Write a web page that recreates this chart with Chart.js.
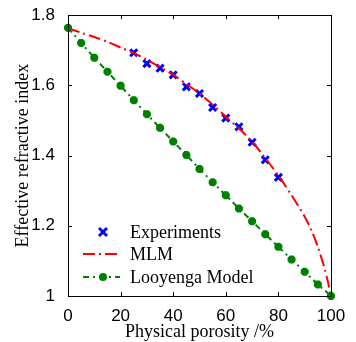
<!DOCTYPE html>
<html>
<head>
<meta charset="utf-8">
<script src="https://cdn.jsdelivr.net/npm/chart.js@4/dist/chart.umd.min.js"></script>
<style>
  html, body { margin: 0; padding: 0; background: #fff; }
  #wrap { width: 356px; height: 342px; }
</style>
</head>
<body>
<div id="wrap"><canvas id="porosityChart" width="356" height="342"></canvas></div>
<script>
// porosity (%) and refractive index values
var expPorosity = [25, 30, 35, 40, 45, 50, 55, 60, 65, 70, 75, 80];
var expIndex = [1.693, 1.662, 1.649, 1.630, 1.596, 1.577, 1.537, 1.507, 1.482, 1.438, 1.388, 1.338];

var mlmPorosity = [0, 5, 10, 15, 20, 25, 30, 35, 40, 45, 50, 55, 60, 65, 70, 75, 80, 85, 90, 92.5, 95, 97.5, 99, 100];
var mlmIndex = [1.763, 1.750, 1.738, 1.724, 1.708, 1.692, 1.673, 1.652, 1.630, 1.604, 1.577, 1.545, 1.511, 1.477, 1.440, 1.393, 1.343, 1.287, 1.226, 1.188, 1.140, 1.080, 1.035, 1.0];

var looPorosity = [0, 5, 10, 15, 20, 25, 30, 35, 40, 45, 50, 55, 60, 65, 70, 75, 80, 85, 90, 95, 100];
var looIndex = [1.764, 1.721, 1.679, 1.639, 1.599, 1.558, 1.518, 1.479, 1.440, 1.402, 1.362, 1.324, 1.287, 1.249, 1.213, 1.176, 1.140, 1.104, 1.069, 1.033, 1.0];

var xTicks = [0, 20, 40, 60, 80, 100];
var yTicks = [1, 1.2, 1.4, 1.6, 1.8];

var seriesNames = ['Experiments', 'MLM', 'Looyenga Model'];

function toPoints(xs, ys) {
    return xs.map(function (x, i) { return { x: x, y: ys[i] }; });
}

var blue = '#0000ff';
var red = '#ff0000';
var green = '#008000';

// box around the plot with inward ticks (matlab style)
var frameTicks = {
    id: 'frameTicks',
    afterDatasetsDraw: function (chart) {
        var ctx = chart.ctx;
        var a = chart.chartArea;
        var xs = chart.scales.x, ys = chart.scales.y;
        var len = 4;
        ctx.save();
        ctx.strokeStyle = '#000';
        ctx.lineWidth = 1;
        ctx.beginPath();
        xTicks.forEach(function (v) {
            var px = Math.round(xs.getPixelForValue(v)) + 0.5;
            ctx.moveTo(px, a.bottom); ctx.lineTo(px, a.bottom - len);
            ctx.moveTo(px, a.top); ctx.lineTo(px, a.top + len);
        });
        yTicks.forEach(function (v) {
            var py = Math.round(ys.getPixelForValue(v)) + 0.5;
            ctx.moveTo(a.left, py); ctx.lineTo(a.left + len, py);
            ctx.moveTo(a.right, py); ctx.lineTo(a.right - len, py);
        });
        ctx.stroke();
        ctx.strokeRect(Math.round(a.left) + 0.5, Math.round(a.top) + 0.5,
            Math.round(a.right - a.left), Math.round(a.bottom - a.top));
        ctx.restore();
    }
};

// legend drawn inside the axes, lower left, no box
var innerLegend = {
    id: 'innerLegend',
    afterDraw: function (chart) {
        var ctx = chart.ctx;
        var x0 = 83, x1 = 120, xm = 103, tx = 130;
        var rows = [232, 254, 277];
        ctx.save();
        ctx.font = '18px "Liberation Serif"';
        ctx.fillStyle = '#000';
        ctx.textBaseline = 'middle';
        ctx.textAlign = 'left';

        // Experiments: blue cross
        ctx.strokeStyle = blue;
        ctx.lineWidth = 3;
        ctx.beginPath();
        ctx.moveTo(xm - 4, rows[0] - 4); ctx.lineTo(xm + 4, rows[0] + 4);
        ctx.moveTo(xm + 4, rows[0] - 4); ctx.lineTo(xm - 4, rows[0] + 4);
        ctx.stroke();

        // MLM: red dash-dot
        ctx.strokeStyle = red;
        ctx.lineWidth = 2;
        ctx.setLineDash([12, 4, 2, 4]);
        ctx.beginPath();
        ctx.moveTo(x0, rows[1]); ctx.lineTo(x1, rows[1]);
        ctx.stroke();

        // Looyenga: green dash-dot with marker
        ctx.strokeStyle = green;
        ctx.setLineDash([6, 4, 2, 4]);
        ctx.beginPath();
        ctx.moveTo(x0, rows[2]); ctx.lineTo(x1, rows[2]);
        ctx.stroke();
        ctx.setLineDash([]);
        ctx.fillStyle = green;
        ctx.beginPath();
        ctx.arc(xm, rows[2], 4, 0, Math.PI * 2);
        ctx.fill();

        ctx.fillStyle = '#000';
        seriesNames.forEach(function (name, i) {
            ctx.fillText(name, tx, rows[i] + 1);
        });
        ctx.restore();
    }
};

var data = {
    datasets: [{
        label: seriesNames[0],
        data: toPoints(expPorosity, expIndex),
        showLine: false,
        pointStyle: 'crossRot',
        pointRadius: 5,
        pointBorderWidth: 3,
        borderColor: blue,
        backgroundColor: blue,
        order: 3
    }, {
        label: seriesNames[1],
        data: toPoints(mlmPorosity, mlmIndex),
        showLine: true,
        borderColor: red,
        borderWidth: 2,
        borderDash: [12, 4, 2, 4],
        pointRadius: 0,
        tension: 0.3,
        order: 2
    }, {
        label: seriesNames[2],
        data: toPoints(looPorosity, looIndex),
        showLine: true,
        borderColor: green,
        backgroundColor: green,
        borderWidth: 2,
        borderDash: [6, 4, 2, 4],
        pointStyle: 'star',
        pointRadius: 4,
        pointBorderWidth: 3,
        order: 1
    }]
};

var options = {
    responsive: false,
    animation: false,
    clip: false,
    layout: { padding: { top: 14, right: 25, left: 0, bottom: 0 } },
    plugins: {
        legend: { display: false },
        tooltip: { enabled: false }
    },
    scales: {
        x: {
            type: 'linear',
            min: 0,
            max: 100,
            afterFit: function (scale) { scale.height = 46; },
            afterBuildTicks: function (scale) {
                scale.ticks = xTicks.map(function (v) { return { value: v }; });
            },
            grid: { display: false },
            border: { display: false },
            ticks: {
                color: '#000',
                padding: 2,
                font: { family: '"Liberation Sans"', size: 17 }
            },
            title: {
                display: true,
                text: 'Physical porosity /%',
                color: '#000',
                padding: { top: 0, bottom: -1 },
                font: { family: '"Liberation Serif"', size: 18 }
            }
        },
        y: {
            type: 'linear',
            min: 1,
            max: 1.8,
            afterFit: function (scale) { scale.width = 68; },
            afterBuildTicks: function (scale) {
                scale.ticks = yTicks.map(function (v) { return { value: v }; });
            },
            grid: { display: false },
            border: { display: false },
            ticks: {
                color: '#000',
                padding: 5,
                font: { family: '"Liberation Sans"', size: 17 },
                callback: function (v) { return String(+Number(v).toFixed(1)); }
            },
            title: {
                display: true,
                text: 'Effective refractive index',
                color: '#000',
                padding: { top: 12, bottom: 0 },
                font: { family: '"Liberation Serif"', size: 18 }
            }
        }
    }
};

var canvas = document.getElementById('porosityChart').getContext('2d');
var porosityChart = new Chart(canvas, {
    type: 'scatter',
    data: data,
    options: options,
    plugins: [frameTicks, innerLegend]
});
</script>
</body>
</html>
